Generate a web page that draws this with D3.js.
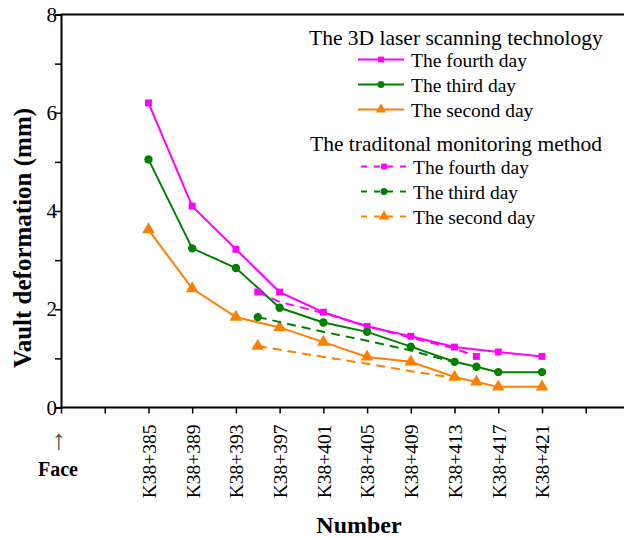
<!DOCTYPE html>
<html>
<head>
<meta charset="utf-8">
<script src="https://cdn.jsdelivr.net/npm/d3@7"></script>
<style>
  body { margin: 0; background: #fff; }
  svg text { font-family: "Liberation Serif", "Times New Roman", serif; fill: #000; }
</style>
</head>
<body>
<div id="chart"></div>
<script>
// stations along the tunnel (K38+xxx)
const stations = [385, 389, 393, 397, 401, 405, 409, 413, 417, 421];
const yTicks = [0, 2, 4, 6, 8];

// 3D laser scanning technology
const laserFourthX = [385, 389, 393, 397, 401, 405, 409, 413, 417, 421];
const laserFourth = [6.2, 4.1, 3.22, 2.35, 1.94, 1.65, 1.45, 1.23, 1.13, 1.04];
const laserThirdX = [385, 389, 393, 397, 401, 405, 409, 413, 415, 417, 421];
const laserThird = [5.05, 3.24, 2.84, 2.03, 1.73, 1.54, 1.24, 0.93, 0.83, 0.72, 0.72];
const laserSecondX = [385, 389, 393, 397, 401, 405, 409, 413, 415, 417, 421];
const laserSecond = [3.62, 2.42, 1.84, 1.63, 1.33, 1.03, 0.93, 0.62, 0.52, 0.42, 0.42];

// traditional monitoring method
const tradFourthX = [395, 397, 401, 405, 409, 413, 415];
const tradFourth = [2.35, 2.15, 1.92, 1.66, 1.42, 1.2, 1.04];
const tradThirdX = [395, 401, 405, 409, 413];
const tradThird = [1.84, 1.54, 1.36, 1.16, 0.92];
const tradSecondX = [395, 401, 405, 409, 413];
const tradSecond = [1.25, 1.03, 0.89, 0.74, 0.6];

const series = [
    { name: "The fourth day", xs: laserFourthX, ys: laserFourth, color: "#ff00ff", symbol: d3.symbolSquare, dashed: false, marks: laserFourthX },
    { name: "The third day", xs: laserThirdX, ys: laserThird, color: "#008000", symbol: d3.symbolCircle, dashed: false, marks: laserThirdX },
    { name: "The second day", xs: laserSecondX, ys: laserSecond, color: "#ff8000", symbol: d3.symbolTriangle, dashed: false, marks: laserSecondX },
    { name: "The fourth day", xs: tradFourthX, ys: tradFourth, color: "#ff00ff", symbol: d3.symbolSquare, dashed: true, marks: [395, 415] },
    { name: "The third day", xs: tradThirdX, ys: tradThird, color: "#008000", symbol: d3.symbolCircle, dashed: true, marks: [395] },
    { name: "The second day", xs: tradSecondX, ys: tradSecond, color: "#ff8000", symbol: d3.symbolTriangle, dashed: true, marks: [395] }
];

function markSize(sym) {
    if (sym === d3.symbolSquare) return 48;
    if (sym === d3.symbolCircle) return 55;
    return 70;
}

const W = 625, H = 539;
const svg = d3.select("#chart").append("svg")
    .attr("width", W)
    .attr("height", H);

const x = d3.scaleLinear().domain([377, 428.5]).range([61, 624]);
const y = d3.scaleLinear().domain([0, 8]).range([407.5, 14.5]);

// frame top line
svg.append("line")
    .attr("x1", x(377)).attr("x2", x(428.5))
    .attr("y1", y(8)).attr("y2", y(8))
    .attr("stroke", "#000").attr("stroke-width", 2);

// y axis
const yAxis = svg.append("g")
    .attr("transform", `translate(${x(377)},0)`)
    .call(d3.axisLeft(y).tickValues(d3.range(0, 9, 1)).tickSize(6)
        .tickFormat(d => yTicks.includes(d) ? d : ""));
yAxis.select(".domain").attr("stroke-width", 2);
yAxis.selectAll(".tick line").attr("stroke-width", 1.5);
yAxis.selectAll("text")
    .style("font-size", "21px")
    .attr("x", -4);

// x axis
const xTickVals = d3.range(377, 429, 4);
const xAxis = svg.append("g")
    .attr("transform", `translate(0,${y(0)})`)
    .call(d3.axisBottom(x).tickValues(xTickVals).tickSize(6)
        .tickFormat(d => stations.includes(d) ? "K38+" + d : ""));
xAxis.select(".domain").attr("stroke-width", 2).attr("d", `M${x(377)},0H${x(428.5)}`);
xAxis.selectAll(".tick line").attr("stroke-width", 1.5);
xAxis.selectAll("text")
    .style("font-size", "19.5px")
    .attr("transform", "rotate(-90)")
    .attr("text-anchor", "end")
    .attr("x", -17)
    .attr("y", 0)
    .attr("dy", "0.35em");

// lines and markers
const line = d3.line().x(d => x(d[0])).y(d => y(d[1]));

series.forEach(s => {
    const pts = s.xs.map((v, i) => [v, s.ys[i]]);
    svg.append("path")
        .datum(pts)
        .attr("fill", "none")
        .attr("stroke", s.color)
        .attr("stroke-width", 2)
        .attr("stroke-dasharray", s.dashed ? "9,6" : null)
        .attr("d", line);
    svg.append("g").selectAll("path")
        .data(pts.filter(p => s.marks.includes(p[0])))
        .join("path")
        .attr("transform", d => `translate(${x(d[0])},${y(d[1])})`)
        .attr("d", d3.symbol().type(s.symbol).size(markSize(s.symbol)))
        .attr("fill", s.color);
});

// legend
const legend = svg.append("g");
const groups = [
    { title: "The 3D laser scanning technology", tx: 309, ty: 45, items: series.slice(0, 3), y0: 59.5, lx0: 358, lx1: 404, textX: 411 },
    { title: "The traditonal monitoring method", tx: 310, ty: 151, items: series.slice(3), y0: 166.5, lx0: 361, lx1: 407, textX: 413 }
];
groups.forEach(g => {
    legend.append("text")
        .attr("x", g.tx).attr("y", g.ty)
        .style("font-size", "21.5px")
        .text(g.title);
    g.items.forEach((s, i) => {
        const ly = g.y0 + i * 25;
        legend.append("line")
            .attr("x1", g.lx0).attr("x2", g.lx1)
            .attr("y1", ly).attr("y2", ly)
            .attr("stroke", s.color).attr("stroke-width", 2)
            .attr("stroke-dasharray", s.dashed ? "6,7" : null);
        legend.append("path")
            .attr("transform", `translate(${(g.lx0 + g.lx1) / 2},${ly})`)
            .attr("d", d3.symbol().type(s.symbol).size(markSize(s.symbol) * 0.7))
            .attr("fill", s.color);
        legend.append("text")
            .attr("x", g.textX).attr("y", ly + 7)
            .style("font-size", "19.5px")
            .text(s.name);
    });
});

// axis titles
svg.append("text")
    .attr("transform", "rotate(-90)")
    .attr("x", -238).attr("y", 31)
    .attr("text-anchor", "middle")
    .style("font-size", "25px")
    .style("font-weight", "bold")
    .text("Vault deformation (mm)");

svg.append("text")
    .attr("x", 359).attr("y", 533)
    .attr("text-anchor", "middle")
    .style("font-size", "24px")
    .style("font-weight", "bold")
    .text("Number");

// face marker
svg.append("text")
    .attr("x", 59).attr("y", 449)
    .attr("text-anchor", "middle")
    .style("font-size", "28px")
    .style("fill", "#444")
    .text("↑");
svg.append("text")
    .attr("x", 58).attr("y", 476)
    .attr("text-anchor", "middle")
    .style("font-size", "20px")
    .style("font-weight", "bold")
    .text("Face");
</script>
</body>
</html>
